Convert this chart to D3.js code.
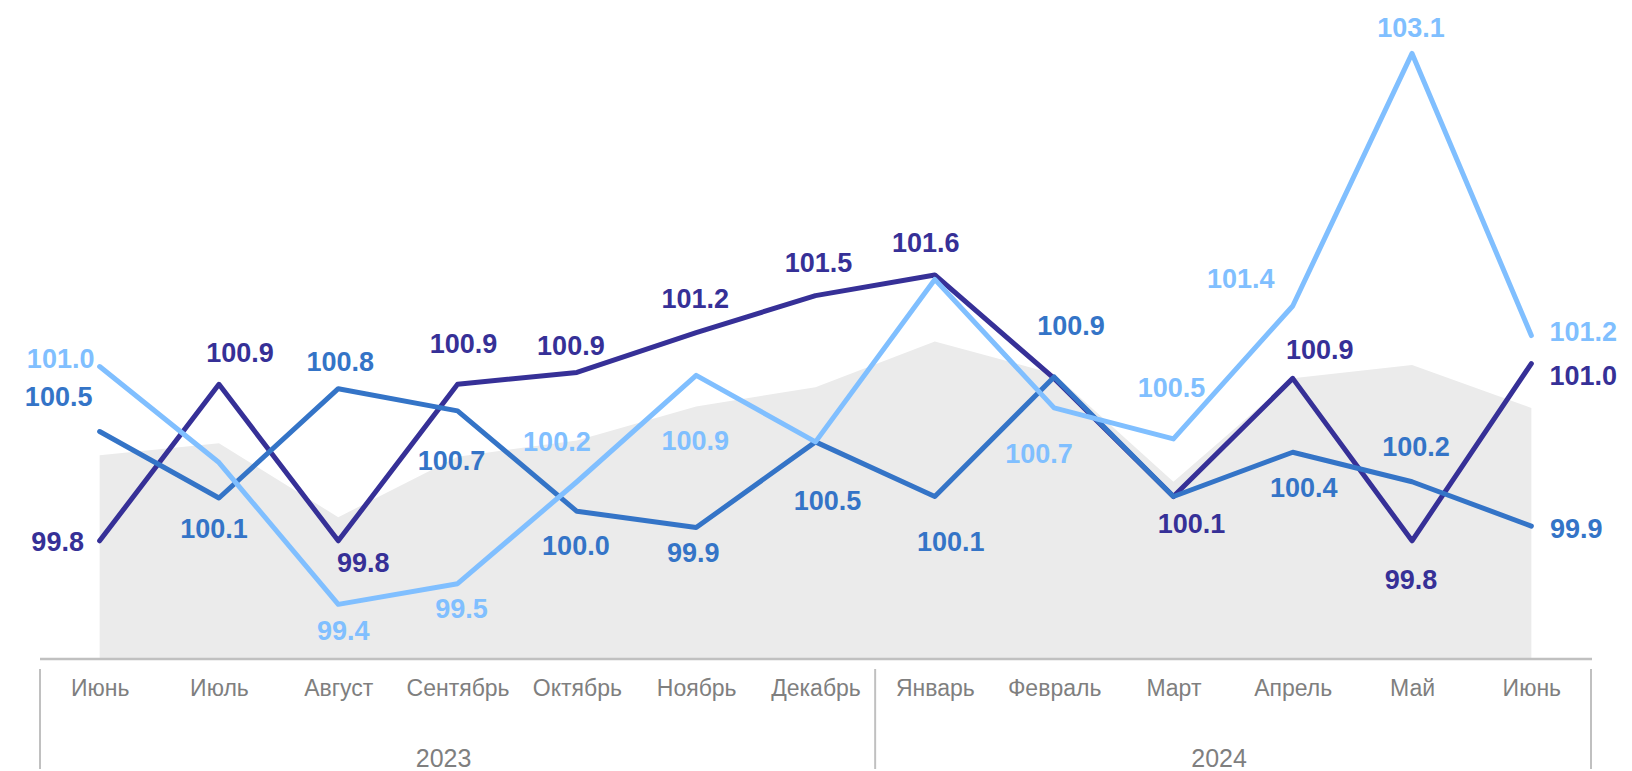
<!DOCTYPE html>
<html>
<head>
<meta charset="utf-8">
<script src="https://cdn.jsdelivr.net/npm/d3@7"></script>
<style>
  body { margin: 0; background: #fff; }
  svg { display: block; font-family: "Liberation Sans", Arial, sans-serif; }
</style>
</head>
<body>
<svg id="chart" width="1632" height="771"></svg>
<script>
// categories
const months = ["Июнь", "Июль", "Август", "Сентябрь", "Октябрь", "Ноябрь", "Декабрь",
                "Январь", "Февраль", "Март", "Апрель", "Май", "Июнь"];
const years = [
  { label: "2023", from: 0, to: 6 },
  { label: "2024", from: 7, to: 12 }
];

// series values
const darkValues   = [99.8, 100.86, 99.8, 100.86, 100.94, 101.21, 101.46, 101.6, 100.9, 100.1, 100.9, 99.8, 101.0];
const mediumValues = [100.54, 100.09, 100.83, 100.68, 100.0, 99.89, 100.47, 100.1, 100.91, 100.1, 100.4, 100.2, 99.9];
const lightValues  = [100.98, 100.33, 99.37, 99.51, 100.2, 100.92, 100.47, 101.57, 100.7, 100.49, 101.39, 103.1, 101.19];
const areaValues   = [100.38, 100.46, 99.96, 100.37, 100.48, 100.71, 100.84, 101.15, 100.93, 100.2, 100.9, 100.99, 100.7];

// label placement (offset from point, px); null = no label
const darkLabelPos = [[-42, 1], [21, -31], [25, 22], [6, -40], [-6, -26], [-1, -34], [3, -33], [-9, -32],
                      null, [18, 27], [27, -28], [-1, 39], [52, 12]];
const mediumLabelPos = [[-41, -35], [-5, 31], [2, -27], [-6, 50], [-1, 35], [-3, 25], [12, 59], [16, 45],
                        [17, -51], null, [11, 36], [4, -35], [45, 3]];
const lightLabelPos = [[-39, -8], null, [5, 27], [4, 25], [-20, -40], [-1, 66], null, null,
                       [-15, 46], [-2, -51], [-52, -27], [-1, -25], [52, -4]];

const svg = d3.select("#chart");
const left = 40, right = 1591, baseY = 659;

const x = d3.scalePoint()
    .domain(d3.range(months.length))
    .range([left, right])
    .padding(0.5);
const step = x.step();

const y = d3.scaleLinear()
    .domain([99, 103.5])
    .range([baseY, baseY - 4.5 * 147.7]);

// background area
const area = d3.area()
    .x((d, i) => x(i))
    .y0(baseY)
    .y1(d => y(d));

svg.append("path")
    .datum(areaValues)
    .attr("d", area)
    .attr("fill", "#ebebeb");

// lines
const line = d3.line()
    .x((d, i) => x(i))
    .y(d => y(d));

const series = [
  { values: darkValues, color: "#363097", pos: darkLabelPos },
  { values: mediumValues, color: "#3474c7", pos: mediumLabelPos },
  { values: lightValues, color: "#80bfff", pos: lightLabelPos }
];

series.forEach(s => {
    svg.append("path")
        .datum(s.values)
        .attr("d", line)
        .attr("fill", "none")
        .attr("stroke", s.color)
        .attr("stroke-width", 5)
        .attr("stroke-linejoin", "round")
        .attr("stroke-linecap", "round");
});

// data labels
const fmt = d3.format(".1f");
series.forEach(s => {
    const pts = s.values.map((v, i) => ({ v, i, p: s.pos[i] })).filter(d => d.p);
    svg.append("g")
        .selectAll("text")
        .data(pts)
        .join("text")
        .attr("x", d => x(d.i) + d.p[0])
        .attr("y", d => y(d.v) + d.p[1])
        .attr("text-anchor", "middle")
        .attr("dominant-baseline", "central")
        .attr("font-size", 27)
        .attr("font-weight", "bold")
        .attr("fill", s.color)
        .text(d => fmt(d.v));
});

// x axis: month labels
const xAxis = d3.axisBottom(x)
    .tickSize(0)
    .tickPadding(0)
    .tickFormat(i => months[i]);

const axisG = svg.append("g")
    .attr("transform", `translate(0,${baseY})`)
    .call(xAxis);
axisG.select(".domain").remove();
axisG.selectAll("text")
    .attr("y", 29)
    .attr("dy", null)
    .attr("dominant-baseline", "central")
    .attr("font-size", 23)
    .attr("font-family", "Liberation Sans, Arial, sans-serif")
    .attr("fill", "#7f7f7f");

// axis line
svg.append("line")
    .attr("x1", left).attr("x2", right + 1)
    .attr("y1", baseY).attr("y2", baseY)
    .attr("stroke", "#c0c0c0")
    .attr("stroke-width", 2.5);

// year separators
const seps = [left, left + step * 7, right];
svg.append("g")
    .selectAll("line")
    .data(seps)
    .join("line")
    .attr("x1", d => d).attr("x2", d => d)
    .attr("y1", 669).attr("y2", 769)
    .attr("stroke", "#c0c0c0")
    .attr("stroke-width", 2);

// year labels
svg.append("g")
    .selectAll("text")
    .data(years)
    .join("text")
    .attr("x", d => (x(d.from) - step / 2 + x(d.to) + step / 2) / 2 - 14)
    .attr("y", 758)
    .attr("text-anchor", "middle")
    .attr("dominant-baseline", "central")
    .attr("font-size", 25)
    .attr("fill", "#7f7f7f")
    .text(d => d.label);
</script>
</body>
</html>
